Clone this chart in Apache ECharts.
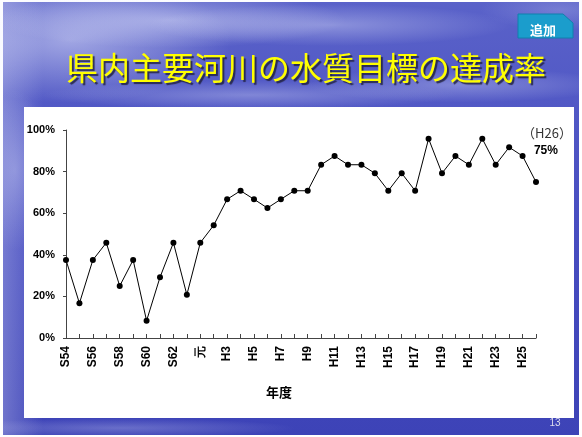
<!DOCTYPE html>
<html>
<head>
<meta charset="utf-8">
<style>
  html, body { margin: 0; padding: 0; background: #ffffff; }
  #chart { width: 582px; height: 437px; }
</style>
<script src="https://cdn.jsdelivr.net/npm/echarts@6/dist/echarts.min.js"></script>
</head>
<body>
<div id="chart"></div>
<script>
// Fiscal years (Showa 54 – Heisei 26)
const years = [
  'S54','S55','S56','S57','S58','S59','S60','S61','S62','S63',
  '元','H2','H3','H4','H5','H6','H7','H8','H9','H10',
  'H11','H12','H13','H14','H15','H16','H17','H18','H19','H20',
  'H21','H22','H23','H24','H25','H26'
];
// Achievement rate of water-quality targets (%)
const rates = [
  37.5, 16.7, 37.5, 45.8, 25.0, 37.5, 8.3, 29.2, 45.8, 20.8,
  45.8, 54.2, 66.7, 70.8, 66.7, 62.5, 66.7, 70.8, 70.8, 83.3,
  87.5, 83.3, 83.3, 79.2, 70.8, 79.2, 70.8, 95.8, 79.2, 87.5,
  83.3, 95.8, 83.3, 91.7, 87.5, 75.0
];
const yTicks = [0, 20, 40, 60, 80, 100];

const titleText = '県内主要河川の水質目標の達成率';
const badgeText = '追加';
const axisName = '年度';
const pageNo = '13';

const latin = '"Liberation Sans", Arial, sans-serif';
const cjk = '"Noto Sans CJK JP", "Noto Sans", sans-serif';

const chart = echarts.init(document.getElementById('chart'), null, { renderer: 'canvas' });

// Soft cloud streak: a scaled circle filled with a radial fade
function cloud(cx, cy, r, sx, sy, alpha) {
  return {
    type: 'circle', silent: true, z: -90,
    x: cx, y: cy, scaleX: sx, scaleY: sy,
    shape: { cx: 0, cy: 0, r: r },
    style: {
      fill: new echarts.graphic.RadialGradient(0.5, 0.5, 0.5, [
        { offset: 0, color: 'rgba(235,238,255,' + alpha + ')' },
        { offset: 1, color: 'rgba(235,238,255,0)' }
      ])
    }
  };
}

const lastIdx = rates.length - 1;
const seriesData = rates.map(function (v, i) {
  if (i !== lastIdx) return v;
  return {
    value: v,
    label: {
      show: true,
      position: [-11, -54],
      align: 'left',
      verticalAlign: 'top',
      formatter: '{a|（' + years[i] + '）}\n{b|' + v + '%}',
      rich: {
        a: { fontFamily: cjk, fontSize: 13, color: '#333', lineHeight: 17 },
        b: { fontFamily: latin, fontSize: 12, fontWeight: 'bold', color: '#000',
             lineHeight: 17, align: 'right', padding: [0, 14, 0, 0] }
      }
    }
  };
});

chart.setOption({
  animation: false,
  backgroundColor: '#ffffff',
  title: {
    text: titleText,
    left: 61,
    top: 47,
    textStyle: {
      fontFamily: cjk,
      fontSize: 32,
      fontWeight: 'normal',
      color: '#ffff00',
      textShadowColor: 'rgba(30,30,60,0.85)',
      textShadowOffsetX: 2,
      textShadowOffsetY: 2,
      textShadowBlur: 1
    }
  },
  graphic: [
    // slide background
    {
      type: 'rect', silent: true, z: -100,
      shape: { x: 3, y: 2, width: 576, height: 433 },
      style: {
        fill: new echarts.graphic.LinearGradient(0, 0, 0, 1, [
          { offset: 0, color: '#5a62c9' },
          { offset: 0.5, color: '#484ec1' },
          { offset: 1, color: '#3d43b7' }
        ])
      }
    },
    // lighter left edge, fading to the right
    {
      type: 'rect', silent: true, z: -95,
      shape: { x: 3, y: 2, width: 40, height: 433 },
      style: {
        fill: new echarts.graphic.LinearGradient(0, 0, 1, 0, [
          { offset: 0, color: 'rgba(225,228,250,0.3)' },
          { offset: 1, color: 'rgba(225,228,250,0)' }
        ])
      }
    },
    // clouds
    cloud(70, 40, 90, 1.8, 0.7, 0.5),
    cloud(170, 20, 80, 2.2, 0.35, 0.45),
    cloud(330, 25, 70, 2.6, 0.3, 0.35),
    cloud(460, 85, 70, 2.2, 0.25, 0.3),
    cloud(250, 95, 80, 2.6, 0.18, 0.3),
    cloud(15, 170, 50, 0.7, 1.6, 0.3),
    cloud(560, 10, 50, 1.6, 0.4, 0.2),
    cloud(120, 428, 80, 2.2, 0.12, 0.25),
    // chart panel
    {
      type: 'rect', silent: true, z: -50,
      shape: { x: 24, y: 107, width: 550, height: 311 },
      style: { fill: '#ffffff' }
    },
    // badge
    {
      type: 'polygon', silent: true, z: 10,
      shape: { points: [[518, 14], [563, 14], [573, 23], [573, 38], [518, 38]] },
      style: { fill: '#1b9dcc', stroke: '#1180ad', lineWidth: 1 }
    },
    {
      type: 'text', silent: true, z: 11,
      x: 543, y: 30,
      style: {
        text: badgeText, fill: '#ffffff',
        font: 'bold 13px ' + cjk,
        align: 'center', verticalAlign: 'middle'
      }
    },
    // page number
    {
      type: 'text', silent: true, z: 11,
      x: 555, y: 423,
      style: {
        text: pageNo, fill: '#dcdcec',
        font: '10px ' + latin,
        align: 'center', verticalAlign: 'middle'
      }
    }
  ],
  grid: {
    left: 66,
    top: 130,
    width: 470,
    height: 208,
    containLabel: false
  },
  xAxis: {
    type: 'category',
    data: years,
    boundaryGap: false,
    name: axisName,
    nameLocation: 'middle',
    nameGap: 48,
    nameTextStyle: {
      fontFamily: cjk, fontSize: 13, fontWeight: 'bold', color: '#000',
      padding: [0, 44, 0, 0]
    },
    axisLine: { lineStyle: { color: '#444', width: 1 } },
    axisTick: { show: true, inside: true, length: 4, interval: 0, lineStyle: { color: '#444' } },
    axisLabel: {
      interval: 1,
      rotate: 90,
      margin: 8,
      fontFamily: latin,
      fontSize: 12,
      fontWeight: 'bold',
      color: '#000'
    },
    splitLine: { show: false }
  },
  yAxis: {
    type: 'value',
    min: yTicks[0],
    max: yTicks[yTicks.length - 1],
    interval: 20,
    axisLine: { show: true, lineStyle: { color: '#444', width: 1 } },
    axisTick: { show: true, length: 3, lineStyle: { color: '#444' } },
    axisLabel: {
      formatter: '{value}%',
      margin: 11,
      fontFamily: latin,
      fontSize: 11,
      fontWeight: 'bold',
      color: '#000'
    },
    splitLine: { show: false }
  },
  series: [{
    type: 'line',
    data: seriesData,
    symbol: 'circle',
    symbolSize: 6,
    lineStyle: { color: '#000', width: 1 },
    itemStyle: { color: '#000' },
    z: 5
  }]
});
</script>
</body>
</html>
